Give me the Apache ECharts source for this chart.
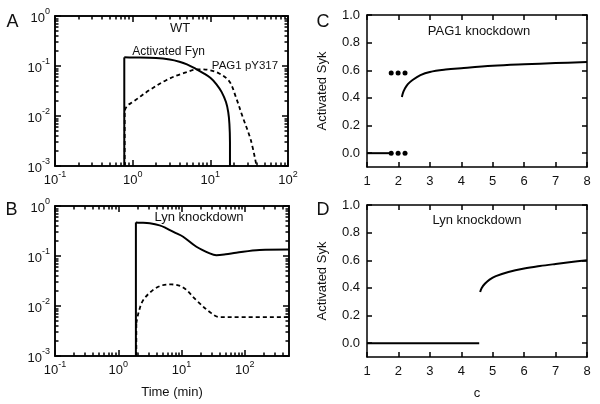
<!DOCTYPE html>
<html><head><meta charset="utf-8">
<script src="https://cdn.jsdelivr.net/npm/echarts@6/dist/echarts.min.js"></script>
<style>html,body{margin:0;padding:0;background:#fff}#c{width:600px;height:404px}</style>
</head><body><div id="c"></div>
<script>
// ---- Data ----
// Panel A (WT)
const fynX = [0.78, 0.78, 1, 2, 3, 4, 5, 6.5, 8, 10, 12, 14, 15.9, 17, 17.6, 17.9, 17.9];
const fynY = [0.001, 0.149, 0.148, 0.144, 0.135, 0.122, 0.108, 0.088, 0.073, 0.058, 0.043, 0.03, 0.019, 0.012, 0.007, 0.003, 0.001];
const pagX = [0.79, 0.79, 0.85, 1.0, 1.65, 2.7, 4.4, 7.2, 9.7, 13, 17.6, 21.3, 26, 33.2, 39.3];
const pagY = [0.001, 0.013, 0.016, 0.019, 0.033, 0.052, 0.071, 0.086, 0.083, 0.071, 0.049, 0.024, 0.0097, 0.0033, 0.001];
// Panel B (Lyn knockdown, time course)
const lynFynX = [1.9, 1.9, 2.2, 3.15, 4.5, 5.8, 8, 10.6, 17.2, 27.9, 35.5, 50, 73, 171, 500];
const lynFynY = [0.001, 0.47, 0.465, 0.45, 0.41, 0.357, 0.29, 0.243, 0.153, 0.113, 0.104, 0.108, 0.116, 0.132, 0.135];
const lynPagX = [1.93, 1.93, 2.1, 2.47, 3.56, 5, 6.9, 10.6, 17.2, 27.9, 40, 100, 500];
const lynPagY = [0.001, 0.0045, 0.0075, 0.013, 0.021, 0.026, 0.027, 0.0235, 0.013, 0.0076, 0.006, 0.006, 0.006];
// Panel C (PAG1 knockdown, bifurcation)
const cOffX = [1, 1.72];
const cOffY = [0, 0];
const cOnX = [2.11, 2.15, 2.2, 2.3, 2.45, 2.7, 3, 3.5, 4, 5, 6, 7, 8];
const cOnY = [0.407, 0.44, 0.465, 0.5, 0.53, 0.565, 0.588, 0.605, 0.615, 0.632, 0.643, 0.652, 0.659];
const cDotX = [1.77, 1.99, 2.21, 1.77, 1.99, 2.21];
const cDotY = [0, 0, 0, 0.58, 0.58, 0.58];
// Panel D (Lyn knockdown, bifurcation)
const dOffX = [1, 4.57];
const dOffY = [0, 0];
const dOnX = [4.6, 4.65, 4.75, 4.9, 5.1, 5.5, 6, 6.5, 7, 7.5, 8];
const dOnY = [0.37, 0.40, 0.43, 0.46, 0.485, 0.515, 0.54, 0.558, 0.573, 0.587, 0.60];
// Tick values
const sykTicks = [0, 0.2, 0.4, 0.6, 0.8, 1.0];
const cTicks = [1, 2, 3, 4, 5, 6, 7, 8];
const decadesX = [0.1, 1, 10, 100];
const decadesY = [0.001, 0.01, 0.1, 1];

const zip = (a, b) => a.map((v, i) => [v, b[i]]);
const FONT = 'Liberation Sans';

function minorLog(lo, hi) {
  const out = [];
  for (let d = lo; d < hi * 1.0001; d *= 10) {
    for (let k = 2; k <= 9; k++) { const v = +(d * k).toPrecision(6); if (v < hi) out.push(v); }
  }
  return out;
}
function logLabel(v) {
  const e = Math.log10(v);
  const r = Math.round(e);
  if (Math.abs(e - r) > 1e-6) return '';
  return '{b|10}{s|' + r + '}';
}
const logRich = {
  b: { fontSize: 13, lineHeight: 17, verticalAlign: 'bottom', fontFamily: FONT, color: '#111' },
  s: { fontSize: 9, lineHeight: 17, verticalAlign: 'top', fontFamily: FONT, color: '#111' }
};

const gridBase = { show: false, containLabel: false };
const axisTxt = { color: '#111', fontSize: 13, fontFamily: FONT };
const axLine = { show: true, onZero: false, lineStyle: { color: '#000', width: 1.5 } };
const tickStyle = { color: '#000', width: 1.5 };

// axis carrying only tick marks (mirrored / minor ticks) and a frame side
function tickAxis(gi, type, min, max, position, values, len) {
  return {
    gridIndex: gi, type: type, min: min, max: max, position: position,
    axisLine: axLine, splitLine: { show: false }, axisLabel: { show: false },
    axisTick: { show: true, inside: true, length: len, customValues: values, lineStyle: tickStyle }
  };
}
function logAxis(gi, min, max, isX, majors) {
  return {
    gridIndex: gi, type: 'log', logBase: 10, min: min, max: max, position: isX ? 'bottom' : 'left',
    axisLine: axLine, splitLine: { show: false },
    axisTick: { show: true, inside: true, length: 6, customValues: majors, lineStyle: tickStyle },
    axisLabel: { formatter: logLabel, rich: logRich, margin: isX ? 4 : 5, showMinLabel: true, showMaxLabel: true, hideOverlap: false }
  };
}
function linX(gi) {
  return {
    gridIndex: gi, type: 'value', min: 1, max: 8, interval: 1, position: 'bottom',
    axisLine: axLine, splitLine: { show: false },
    axisTick: { show: true, inside: true, length: 5, customValues: cTicks, lineStyle: tickStyle },
    axisLabel: Object.assign({ margin: 8 }, axisTxt)
  };
}
function linY(gi) {
  return {
    gridIndex: gi, type: 'value', min: -0.1, max: 1.0, position: 'left',
    axisLine: axLine, splitLine: { show: false },
    axisTick: { show: true, inside: true, length: 5, customValues: sykTicks, lineStyle: tickStyle },
    axisLabel: Object.assign({ margin: 7, customValues: sykTicks, formatter: v => v.toFixed(1) }, axisTxt),
    name: 'Activated Syk', nameLocation: 'middle', nameGap: 38, nameRotate: 90,
    nameTextStyle: axisTxt
  };
}
const solid = { color: '#000', width: 2 };
const dashed = { color: '#000', width: 1.8, type: [4, 3] };
function lineSeries(gi, data, style, smooth) {
  return { type: 'line', xAxisIndex: gi, yAxisIndex: gi, data: data, showSymbol: false, symbol: 'none',
    lineStyle: style, itemStyle: { color: '#000' }, smooth: smooth || false, z: 3 };
}
// a jump (vertical segment) followed by a smooth curve
function jumpCurve(gi, xs, ys, style, k) {
  const pts = zip(xs, ys);
  return [lineSeries(gi, pts.slice(0, k + 1), style, false), lineSeries(gi, pts.slice(k), style, 0.35)];
}
function txt(x, y, s, size) {
  return { type: 'text', x: x, y: y, style: { text: s, fill: '#111', font: size + 'px ' + FONT, textAlign: 'center', textVerticalAlign: 'middle' } };
}

const xB = logAxis(1, 0.1, 500, true, decadesX);
xB.name = 'Time (min)'; xB.nameLocation = 'middle'; xB.nameGap = 30; xB.nameTextStyle = axisTxt;
const xD = linX(3);
xD.name = 'c'; xD.nameLocation = 'middle'; xD.nameGap = 30; xD.nameTextStyle = axisTxt;

// main axes first (indices 0..3 match grids), tick-only axes after
const xAxes = [logAxis(0, 0.1, 100, true, decadesX), xB, linX(2), xD,
  tickAxis(0, 'log', 0.1, 100, 'bottom', minorLog(0.1, 100), 3.5),
  tickAxis(0, 'log', 0.1, 100, 'top', decadesX, 6),
  tickAxis(0, 'log', 0.1, 100, 'top', minorLog(0.1, 100), 3.5),
  tickAxis(1, 'log', 0.1, 500, 'bottom', minorLog(0.1, 500), 3.5),
  tickAxis(1, 'log', 0.1, 500, 'top', decadesX, 6),
  tickAxis(1, 'log', 0.1, 500, 'top', minorLog(0.1, 500), 3.5),
  tickAxis(2, 'value', 1, 8, 'top', cTicks, 5),
  tickAxis(3, 'value', 1, 8, 'top', cTicks, 5)
];
const yAxes = [logAxis(0, 0.001, 1, false, decadesY), logAxis(1, 0.001, 1, false, decadesY), linY(2), linY(3),
  tickAxis(0, 'log', 0.001, 1, 'left', minorLog(0.001, 1), 3.5),
  tickAxis(0, 'log', 0.001, 1, 'right', decadesY, 6),
  tickAxis(0, 'log', 0.001, 1, 'right', minorLog(0.001, 1), 3.5),
  tickAxis(1, 'log', 0.001, 1, 'left', minorLog(0.001, 1), 3.5),
  tickAxis(1, 'log', 0.001, 1, 'right', decadesY, 6),
  tickAxis(1, 'log', 0.001, 1, 'right', minorLog(0.001, 1), 3.5),
  tickAxis(2, 'value', -0.1, 1.0, 'right', sykTicks, 5),
  tickAxis(3, 'value', -0.1, 1.0, 'right', sykTicks, 5)
];

const option = {
  animation: false,
  grid: [
    Object.assign({ left: 55, top: 16, width: 233, height: 150 }, gridBase),
    Object.assign({ left: 55, top: 206, width: 234, height: 150 }, gridBase),
    Object.assign({ left: 367, top: 15, width: 220, height: 152 }, gridBase),
    Object.assign({ left: 367, top: 205, width: 220, height: 152 }, gridBase)
  ],
  xAxis: xAxes,
  yAxis: yAxes,
  series: [].concat(
    jumpCurve(0, fynX, fynY, solid, 1),
    jumpCurve(0, pagX, pagY, dashed, 1),
    jumpCurve(1, lynFynX, lynFynY, solid, 1),
    jumpCurve(1, lynPagX, lynPagY, dashed, 1),
    [lineSeries(2, zip(cOffX, cOffY), solid),
    lineSeries(2, zip(cOnX, cOnY), solid, 0.35),
    { type: 'scatter', xAxisIndex: 2, yAxisIndex: 2, data: zip(cDotX, cDotY), symbolSize: 5, itemStyle: { color: '#000', opacity: 1 }, z: 4 },
    lineSeries(3, zip(dOffX, dOffY), solid),
    lineSeries(3, zip(dOnX, dOnY), solid, 0.35)]
  ),
  graphic: [
    txt(12.5, 22, 'A', 18), txt(11.5, 210, 'B', 18), txt(323, 22, 'C', 18), txt(323, 210, 'D', 18),
    txt(180, 28, 'WT', 13),
    txt(168.5, 52, 'Activated Fyn', 12),
    txt(245, 66, 'PAG1 pY317', 11.5),
    txt(199, 217, 'Lyn knockdown', 13),
    txt(479, 31.5, 'PAG1 knockdown', 13),
    txt(477, 220, 'Lyn knockdown', 13)
  ]
};
const chart = echarts.init(document.getElementById('c'), null, { renderer: 'canvas' });
chart.setOption(option);
</script>
</body></html>
